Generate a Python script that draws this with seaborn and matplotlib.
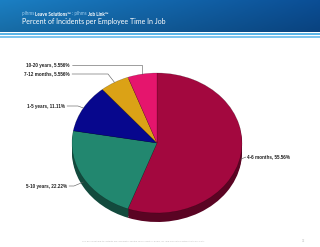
import numpy as np
import seaborn as sns
import matplotlib.pyplot as plt
from matplotlib.colors import to_rgb

# data (clockwise from 12 o'clock)
labels = ["4-6 months", "5-10 years", "1-5 years", "7-12 months", "10-20 years"]
shares = [55.56, 22.22, 11.11, 5.556, 5.556]
pct_text = ["55.56%", "22.22%", "11.11%", "5.556%", "5.556%"]
colors = ["#a3083f", "#22876f", "#07078d", "#dba216", "#e5156d"]

subtitle_parts = [("plhms ", "#9fcdee", "normal"), ("Leave Solutions\u2122", "white", "bold"),
                  (" : plhms ", "#9fcdee", "normal"), ("Job Link\u2122", "white", "bold")]
title = "Percent of Incidents per Employee Time In Job"
footer = "This document and its contents are confidential and the sole property of plhms, Inc. and may not be distributed to any party."

sns.set_theme(style="white")
plt.rcParams["font.family"] = ["Liberation Sans", "DejaVu Sans"]

fig = plt.figure(figsize=(3.2, 2.47), dpi=100)
W, H = 320, 247

# header banner
hb = fig.add_axes([0, 1 - 32 / H, 1, 32 / H])
xg = np.linspace(0, 1, 200)
yg = np.linspace(0, 1, 40)[:, None]
left_c = np.array(to_rgb("#1b7fc3"))
right_c = np.array(to_rgb("#0b4e95"))
grad = left_c[None, None, :] * (1 - xg[None, :, None]) + right_c[None, None, :] * xg[None, :, None]
grad = grad * (0.85 + 0.15 * yg[:, :, None])
hb.imshow(np.clip(grad, 0, 1), aspect="auto", extent=[0, 1, 0, 1], origin="lower")
hb.axis("off")
for y0, h, c in [(33, 2.5, "#5cb6e8"), (36.5, 1.5, "#7cc4ee")]:
    a = fig.add_axes([0, 1 - (y0 + h) / H, 1, h / H])
    a.set_facecolor(c)
    a.set_xticks([]); a.set_yticks([])
    for s in a.spines.values():
        s.set_visible(False)

# subtitle: pieces laid out one after another
rend = fig.canvas.get_renderer()
x_cur = 22
for txt, col, wt in subtitle_parts:
    t = fig.text(x_cur / W, 1 - 14 / H, txt, color=col, fontsize=3.3, fontweight=wt,
                 va="center", ha="left", family=["Lato", "DejaVu Sans"])
    x_cur += t.get_window_extent(rend).width

fig.text(22 / W, 1 - 21.5 / H, title, color="white", fontsize=5.0,
         va="center", ha="left", family=["Lato", "DejaVu Sans"])

# pie: ellipse, 85 px wide radius, 70 px tall radius, centre at (157, 143)
cx, cy, rx, ry = 157, 143, 85, 70
ax = fig.add_axes([(cx - 1.25 * rx) / W, (H - cy - 1.25 * ry) / H,
                   2.5 * rx / W, 2.5 * ry / H])
depth = 9 / ry
dark = [tuple(np.array(to_rgb(c)) * 0.55) for c in colors]
# side of the "3D" pie: stacked darker copies
for k in np.linspace(depth, 0, 6)[:-1]:
    ax.pie(shares, colors=dark, startangle=90, counterclock=False,
           center=(0, -k), radius=1, wedgeprops=dict(edgecolor="none"))
wedges, _ = ax.pie(shares, colors=colors, startangle=90, counterclock=False,
                   radius=1, wedgeprops=dict(edgecolor=(0, 0, 0, 0.35), linewidth=0.3))
ax.set_aspect("auto")
ax.set_xlim(-1.25, 1.25)
ax.set_ylim(-1.25, 1.25)
ax.axis("off")

# labels with leader lines (positions in figure pixels from top-left)
label_pos = {
    "10-20 years": (70, 65, "right"),
    "7-12 months": (70, 74, "right"),
    "1-5 years": (65, 106, "right"),
    "5-10 years": (67, 186, "right"),
    "4-6 months": (247, 157, "left"),
}
elbow_x = {"10-20 years": None, "7-12 months": 108, "1-5 years": 78,
           "5-10 years": 74, "4-6 months": None}

lax = fig.add_axes([0, 0, 1, 1])
lax.set_xlim(0, W)
lax.set_ylim(H, 0)
lax.axis("off")

for w, lab, pt in zip(wedges, labels, pct_text):
    mid = np.deg2rad((w.theta1 + w.theta2) / 2)
    ex = cx + rx * np.cos(mid)
    ey = cy - ry * np.sin(mid)
    if np.sin(mid) < 0:
        ey += 4
    tx, ty, ha = label_pos[lab]
    lax.text(tx, ty, f"{lab}, {pt}", fontsize=3.3, fontweight="bold",
             ha=ha, va="center", color="#222222")
    if ha == "right":
        sx = tx + 2
        ex_elbow = ex if elbow_x[lab] is None else elbow_x[lab]
        xs, ys = [sx, ex_elbow, ex], [ty, ty, ey]
    else:
        xs, ys = [ex, tx - 1], [ey, ty]
    lax.plot(xs, ys, color="#555555", lw=0.4)

fig.text(82 / W, 1 - 241 / H, footer, fontsize=1.6, color="#b8b8b8",
         va="center", ha="left")
fig.text(304 / W, 1 - 241 / H, "32", fontsize=2.2, color="#b8b8b8",
         va="center", ha="center")

fig.savefig("out.png", dpi=100)
